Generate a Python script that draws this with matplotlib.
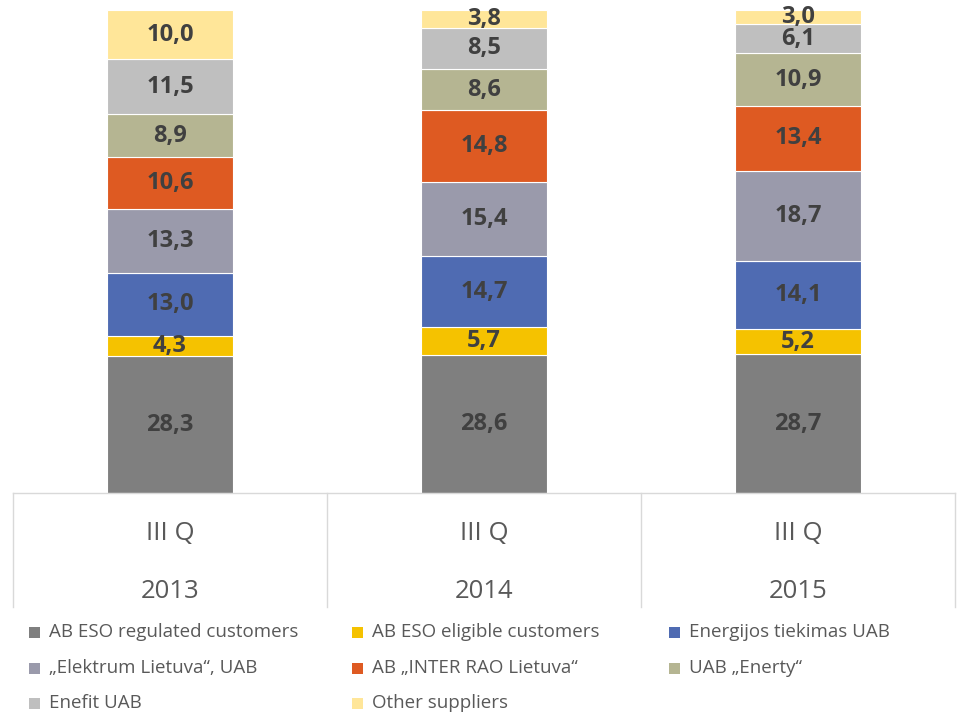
import matplotlib
matplotlib.use("Agg")
import matplotlib.pyplot as plt
from matplotlib.patches import Rectangle
import numpy as np

# ── data ─────────────────────────────────────────────────────────────────────
quarters = ["III Q", "III Q", "III Q"]
years = ["2013", "2014", "2015"]

series_names = [
    "AB ESO regulated customers",
    "AB ESO eligible customers",
    "Energijos tiekimas UAB",
    "„Elektrum Lietuva“, UAB",
    "AB „INTER RAO Lietuva“",
    "UAB „Enerty“",
    "Enefit UAB",
    "Other suppliers",
]
eso_regulated = [28.3, 28.6, 28.7]
eso_eligible = [4.3, 5.7, 5.2]
energijos = [13.0, 14.7, 14.1]
elektrum = [13.3, 15.4, 18.7]
inter_rao = [10.6, 14.8, 13.4]
enerty = [8.9, 8.6, 10.9]
enefit = [11.5, 8.5, 6.1]
other = [10.0, 3.8, 3.0]

colors = ["#7f7f7f", "#f5c200", "#4f6bb2", "#9a9aab",
          "#de5a22", "#b5b592", "#bfbfbf", "#ffe699"]

FONT = "Open Sans"
TEXT_DARK = "#404040"
TEXT_MID = "#595959"
GRID = "#d9d9d9"

# ── figure ───────────────────────────────────────────────────────────────────
W, H = 961, 712
fig = plt.figure(figsize=(W / 100, H / 100), dpi=100)
ax = fig.add_axes([13 / W, 219 / H, 942 / W, 483 / H])

x = np.arange(len(years))
all_series = [eso_regulated, eso_eligible, energijos, elektrum,
              inter_rao, enerty, enefit, other]
bottom = np.zeros(len(years))
for vals, col in zip(all_series, colors):
    vals = np.array(vals)
    bars = ax.bar(x, vals, bottom=bottom, width=0.4, color=col,
                  edgecolor="white", linewidth=0.8, zorder=2)
    for b, v in zip(bars, vals):
        ax.text(b.get_x() + b.get_width() / 2, b.get_y() + v / 2,
                f"{v:.1f}".replace(".", ","), ha="center", va="center",
                fontsize=17, fontweight="bold", color=TEXT_DARK,
                family=FONT, zorder=3)
    bottom += vals

ax.set_xlim(-0.5, len(years) - 0.5)
ax.set_ylim(0, 100)
ax.set_yticks([])
ax.set_xticks([])
for s in ["left", "right", "top"]:
    ax.spines[s].set_visible(False)
ax.spines["bottom"].set_color(GRID)
ax.spines["bottom"].set_linewidth(1.0)

# category table below the axis
trans = ax.get_xaxis_transform()
for xv in np.arange(len(years) + 1) - 0.5:
    ax.plot([xv, xv], [0, -114 / 483], color=GRID, lw=1.0,
            transform=trans, clip_on=False)
for i, (q, yr) in enumerate(zip(quarters, years)):
    ax.text(i, -41 / 483, q, transform=trans, ha="center", va="center",
            fontsize=18.5, color=TEXT_MID, family=FONT)
    ax.text(i, -99 / 483, yr, transform=trans, ha="center", va="center",
            fontsize=18.5, color=TEXT_MID, family=FONT)

# legend, row-wise in three columns
col_x = [34, 357, 674]
row_y = [632, 668, 703]
for k, (name, col) in enumerate(zip(series_names, colors)):
    r, c = divmod(k, 3)
    mx, my = col_x[c], row_y[r]
    fig.patches.append(Rectangle(((mx - 5.5) / W, 1 - (my + 5.5) / H),
                                 11 / W, 11 / H, transform=fig.transFigure,
                                 facecolor=col, edgecolor="none"))
    fig.text((mx + 15) / W, 1 - my / H, name, ha="left", va="center",
             fontsize=13.5, color=TEXT_MID, family=FONT)

fig.savefig("out.png", dpi=100, facecolor="white")
plt.close(fig)
